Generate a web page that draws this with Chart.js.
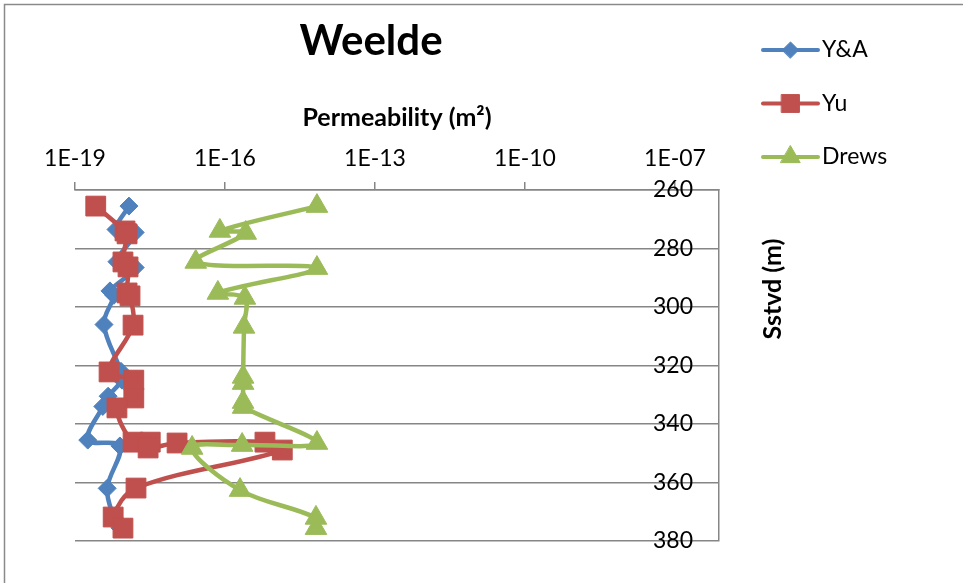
<!DOCTYPE html>
<html>
<head>
<meta charset="utf-8">
<title>Weelde</title>
<script src="https://cdn.jsdelivr.net/npm/chart.js@4/dist/chart.umd.min.js"></script>
<style>
  html, body { margin: 0; padding: 0; background: #ffffff; }
  #wrap { width: 963px; height: 583px; position: relative; }
</style>
</head>
<body>
<div id="wrap"><canvas id="chart" width="963" height="583"></canvas></div>
<script>
// ---- data ---------------------------------------------------------------
const chartTitle = 'Weelde';
const permTitle = 'Permeability (m²)';
const depthTitle = 'Sstvd (m)';
const seriesNames = ['Y&A', 'Yu', 'Drews'];

// Y&A: depth (m) and permeability (m²)
const yaDepth = [265.5, 273.5, 274.5, 284.5, 286.5, 294.5, 296, 306, 322, 325, 330.5, 334, 345.5, 347.5, 362, 372, 375.5];
const yaPerm  = [1.2e-18, 6.6e-19, 1.6e-18, 6.9e-19, 1.6e-18, 5.0e-19, 6.0e-19, 3.8e-19, 8.3e-19, 8.7e-19, 4.6e-19, 3.6e-19, 1.8e-19, 7.9e-19, 4.4e-19, 6.0e-19, 7.9e-19];

// Yu
const yuDepth = [265.5, 274, 275, 284.6, 286.3, 295.2, 296.2, 306.2, 322.2, 325, 331.1, 334.5, 346.2, 346.2, 348.2, 346.5, 346.2, 348.9, 361.9, 371.8, 375.6];
const yuPerm  = [2.6e-19, 1.0e-18, 1.1e-18, 9.1e-19, 1.15e-18, 1.1e-18, 1.26e-18, 1.45e-18, 4.8e-19, 1.5e-18, 1.5e-18, 6.9e-19, 1.45e-18, 3.2e-18, 2.9e-18, 1.1e-17, 6.3e-16, 1.4e-15, 1.66e-18, 5.8e-19, 9.1e-19];

// Drews
const drewsDepth = [265.5, 274, 274.7, 284.6, 286.7, 295.2, 296.9, 306.8, 323.9, 326, 332.5, 334.2, 346.5, 347.2, 348.2, 362.6, 372.1, 375.6];
const drewsPerm  = [6.9e-15, 7.9e-17, 2.6e-16, 2.6e-17, 6.9e-15, 7.2e-17, 2.5e-16, 2.4e-16, 2.3e-16, 2.3e-16, 2.3e-16, 2.3e-16, 6.9e-15, 2.2e-16, 2.2e-17, 2.0e-16, 6.6e-15, 6.6e-15];

// axis ticks and bounds
const permTicks = [1e-19, 1e-16, 1e-13, 1e-10, 1e-7];
const permMin = 1e-19;
const permMax = 7.6e-7;
const depthTicks = [260, 280, 300, 320, 340, 360, 380];

// ---- styling ------------------------------------------------------------
const FONT = 'Lato, "Open Sans", "DejaVu Sans", sans-serif';
const AXIS_GREY = '#868686';
const seriesColors = ['#4F81BD', '#C0504D', '#9BBB59'];
const seriesMarkers = ['rectRot', 'rect', 'triangle'];
const markerRadius = [9, 14, 12.5];
const drawOrder = [2, 1, 0]; // Drews on top, Y&A underneath

function sciLabel(v) {
  const e = Math.round(Math.log10(v));
  return '1E' + (e < 0 ? '-' : '+') + String(Math.abs(e)).padStart(2, '0');
}

function toPoints(depths, perms) {
  return depths.map((d, i) => ({ x: perms[i], y: d }));
}

const depthSets = [yaDepth, yuDepth, drewsDepth];
const permSets = [yaPerm, yuPerm, drewsPerm];

const datasets = seriesNames.map((name, i) => ({
  label: name,
  data: toPoints(depthSets[i], permSets[i]),
  borderColor: seriesColors[i],
  backgroundColor: seriesColors[i],
  borderWidth: 4.5,
  tension: 0.35,
  fill: false,
  pointStyle: seriesMarkers[i],
  pointRadius: markerRadius[i],
  pointHoverRadius: markerRadius[i],
  pointBackgroundColor: seriesColors[i],
  pointBorderColor: seriesColors[i],
  pointBorderWidth: 1,
  order: drawOrder[i],
  clip: false
}));

// Title, depth-axis title, legend and outer frame
const decorations = {
  id: 'decorations',
  afterDraw(chart) {
    const ctx = chart.ctx;
    ctx.save();

    ctx.strokeStyle = '#8a8a8a';
    ctx.lineWidth = 1.5;
    ctx.beginPath();
    ctx.moveTo(4.5, chart.height);
    ctx.lineTo(4.5, 4.5);
    ctx.lineTo(chart.width, 4.5);
    ctx.stroke();

    ctx.fillStyle = '#000';
    ctx.font = 'bold 42px ' + FONT;
    ctx.textAlign = 'center';
    ctx.textBaseline = 'alphabetic';
    ctx.fillText(chartTitle, 371, 55);

    ctx.save();
    ctx.translate(773, 289);
    ctx.rotate(-Math.PI / 2);
    ctx.font = 'bold 25px ' + FONT;
    ctx.textAlign = 'center';
    ctx.textBaseline = 'middle';
    ctx.fillText(depthTitle, 0, 0);
    ctx.restore();

    const legendX0 = 763, legendX1 = 818, legendTextX = 822;
    const legendTop = 50, legendGap = 53.5;
    chart.data.datasets.forEach((ds, i) => {
      const y = legendTop + i * legendGap;
      ctx.strokeStyle = ds.borderColor;
      ctx.lineWidth = 4;
      ctx.lineCap = 'round';
      ctx.beginPath();
      ctx.moveTo(legendX0, y);
      ctx.lineTo(legendX1, y);
      ctx.stroke();
      ctx.fillStyle = ds.pointBackgroundColor;
      ctx.strokeStyle = ds.pointBorderColor;
      ctx.lineWidth = 1;
      Chart.helpers.drawPoint(ctx, {
        pointStyle: ds.pointStyle,
        radius: ds.pointRadius * 0.9,
        rotation: 0,
        borderWidth: 1
      }, (legendX0 + legendX1) / 2, y);
      ctx.fillStyle = '#000';
      ctx.font = '23px ' + FONT;
      ctx.textAlign = 'left';
      ctx.textBaseline = 'middle';
      ctx.fillText(ds.label, legendTextX, y);
    });

    ctx.restore();
  }
};

new Chart(document.getElementById('chart'), {
  type: 'line',
  data: { datasets },
  plugins: [decorations],
  options: {
    responsive: false,
    animation: false,
    layout: { padding: { left: 75, right: 244, top: 0, bottom: 42 } },
    plugins: {
      legend: { display: false },
      title: { display: false },
      tooltip: { enabled: false }
    },
    scales: {
      x: {
        type: 'logarithmic',
        position: 'top',
        min: permMin,
        max: permMax,
        afterBuildTicks: s => { s.ticks = permTicks.map(v => ({ value: v })); },
        afterFit: s => { s.height = 190; },
        ticks: {
          callback: v => sciLabel(v),
          font: { family: FONT, size: 23 },
          color: '#000',
          padding: 10,
          maxRotation: 0,
          autoSkip: false
        },
        grid: { drawOnChartArea: false, drawTicks: true, tickLength: 8, color: AXIS_GREY, lineWidth: 1.5 },
        border: { display: true, color: AXIS_GREY, width: 1.5 },
        title: {
          display: true,
          text: permTitle,
          font: { family: FONT, size: 25, weight: 'bold' },
          color: '#000',
          padding: { top: 103, bottom: 0 }
        }
      },
      y: {
        type: 'linear',
        position: 'right',
        reverse: true,
        min: 260,
        max: 380,
        afterBuildTicks: s => { s.ticks = depthTicks.map(v => ({ value: v })); },
        afterFit: s => { s.width = 0; },
        ticks: {
          mirror: true,
          padding: -26,
          font: { family: FONT, size: 23 },
          color: '#000'
        },
        grid: { drawTicks: false, color: AXIS_GREY, lineWidth: 1.5 },
        border: { display: true, color: AXIS_GREY, width: 1.5 }
      }
    }
  }
});
</script>
</body>
</html>
